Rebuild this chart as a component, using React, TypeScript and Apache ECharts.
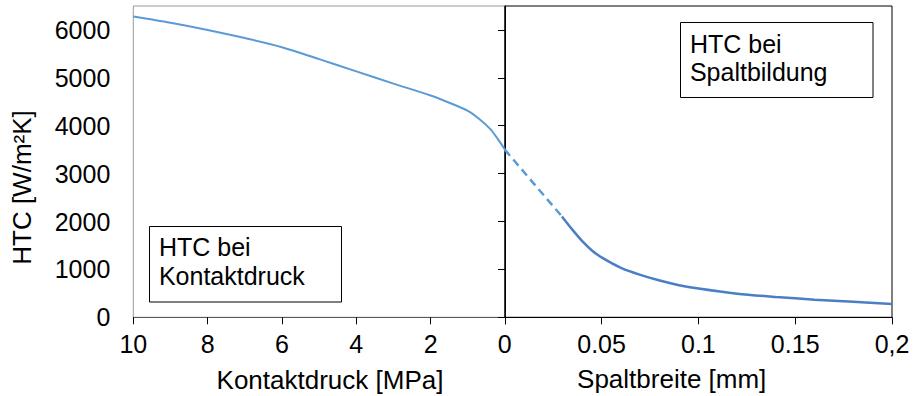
import React, { useEffect, useRef } from "react";
import * as echarts from "echarts";

// Left panel: contact pressure [MPa] vs HTC
const pressureMPa = [10, 9, 8, 7, 6, 5, 4, 3, 2, 1.5, 1, 0.7, 0.4, 0.2, 0];
const htcPressure = [6280, 6150, 6000, 5830, 5640, 5390, 5135, 4880, 4630, 4480, 4310, 4145, 3935, 3730, 3500];

// Right panel: gap width [mm] vs HTC
const gapDashedX = [0, 0.0295];
const gapDashedHTC = [3500, 2106];
const gapMM = [0.0295, 0.035, 0.04, 0.045, 0.05, 0.06, 0.07, 0.08, 0.09, 0.1, 0.12, 0.14, 0.16, 0.18, 0.2];
const htcGap = [2106, 1825, 1590, 1395, 1250, 1032, 885, 767, 670, 600, 494, 425, 369, 327, 278];

// Tick labels
const yTicks = [0, 1000, 2000, 3000, 4000, 5000, 6000];
const leftTicks = [10, 8, 6, 4, 2, 0];
const leftTickLabels = ["10", "8", "6", "4", "2", ""];
const rightTicks = [0, 0.05, 0.1, 0.15, 0.2];
const rightTickLabels = ["0", "0.05", "0.1", "0.15", "0,2"];

const FONT = "'Liberation Sans', Arial, sans-serif";

export default function App() {
  const ref = useRef<HTMLDivElement>(null);
  useEffect(() => {
    if (!ref.current) return;
    const chart = echarts.init(ref.current, null, { renderer: "svg" });
    const tickFont = { fontFamily: FONT, fontSize: 25, color: "#000" };
    const findLabel = (ticks: number[], labels: string[]) => (v: number) => {
      for (let i = 0; i < ticks.length; i++) if (Math.abs(ticks[i] - v) < 1e-9) return labels[i];
      return "";
    };
    chart.setOption({
      animation: false,
      backgroundColor: "#fff",
      grid: [
        { left: 133.3, width: 371.7, top: 6, height: 311.3, show: true, borderColor: "#999", borderWidth: 1, containLabel: false },
        { left: 504.8, width: 387.2, top: 6, height: 311.3, show: true, borderColor: "#000", borderWidth: 1, containLabel: false },
      ],
      xAxis: [
        {
          type: "value", gridIndex: 0, min: 0, max: 10, interval: 2, inverse: true,
          axisLine: { show: true, onZero: false, lineStyle: { color: "#595959", width: 1 } },
          axisTick: { show: true, length: 7, lineStyle: { color: "#000" } },
          splitLine: { show: false },
          axisLabel: { ...tickFont, margin: 14, formatter: findLabel(leftTicks, leftTickLabels) },
        },
        {
          type: "value", gridIndex: 1, min: 0, max: 0.2, interval: 0.05,
          axisLine: { show: true, onZero: false, lineStyle: { color: "#000", width: 1 } },
          axisTick: { show: true, length: 7, lineStyle: { color: "#000" } },
          splitLine: { show: false },
          axisLabel: { ...tickFont, margin: 14, formatter: findLabel(rightTicks, rightTickLabels) },
        },
      ],
      yAxis: [
        {
          type: "value", gridIndex: 0, min: 0, max: 6500, interval: 1000,
          axisLine: { show: true, lineStyle: { color: "#000", width: 1 } },
          axisTick: { show: true, length: 7, customValues: yTicks, lineStyle: { color: "#000" } },
          splitLine: { show: false },
          axisLabel: { ...tickFont, margin: 23, customValues: yTicks, formatter: (v: number) => String(Math.round(v)) },
        },
        {
          type: "value", gridIndex: 1, min: 0, max: 6500, interval: 1000, show: false,
          splitLine: { show: false },
        },
      ],
      series: [
        {
          type: "line", xAxisIndex: 0, yAxisIndex: 0, smooth: 0.3,
          showSymbol: false, data: pressureMPa.map((x, i) => [x, htcPressure[i]]),
          lineStyle: { color: "#5B9BD5", width: 2 },
        },
        {
          type: "line", xAxisIndex: 1, yAxisIndex: 1, showSymbol: false,
          data: gapDashedX.map((x, i) => [x, gapDashedHTC[i]]),
          lineStyle: { color: "#5B9BD5", width: 2.5, type: [8, 5] },
        },
        {
          type: "line", xAxisIndex: 1, yAxisIndex: 1, smooth: 0.3,
          showSymbol: false, data: gapMM.map((x, i) => [x, htcGap[i]]),
          lineStyle: { color: "#4A7EC7", width: 2.5 },
        },
      ],
      graphic: [
        { type: "text", x: 22, y: 187.5, rotation: Math.PI / 2, style: { text: "HTC [W/m²K]", font: `26px ${FONT}`, fill: "#000", align: "center", verticalAlign: "middle" } },
        { type: "text", x: 330, y: 380, style: { text: "Kontaktdruck [MPa]", font: `26px ${FONT}`, fill: "#000", align: "center", verticalAlign: "middle" } },
        { type: "text", x: 671.7, y: 379, style: { text: "Spaltbreite [mm]", font: `26px ${FONT}`, fill: "#000", align: "center", verticalAlign: "middle" } },
        { type: "rect", shape: { x: 149.5, y: 226.5, width: 192, height: 75.5 }, style: { fill: "#fff", stroke: "#000", lineWidth: 1 } },
        { type: "text", x: 158.9, y: 232.5, style: { text: "HTC bei\nKontaktdruck", font: `25px ${FONT}`, lineHeight: 28.8, fill: "#000", align: "left", verticalAlign: "top" } },
        { type: "rect", shape: { x: 680.5, y: 22.5, width: 192.5, height: 75 }, style: { fill: "#fff", stroke: "#000", lineWidth: 1 } },
        { type: "text", x: 689.9, y: 29.2, style: { text: "HTC bei\nSpaltbildung", font: `25px ${FONT}`, lineHeight: 28.8, fill: "#000", align: "left", verticalAlign: "top" } },
      ],
    });
    return () => chart.dispose();
  }, []);
  return <div ref={ref} style={{ position: "absolute", left: 0, top: 0, width: 914, height: 396 }} />;
}
